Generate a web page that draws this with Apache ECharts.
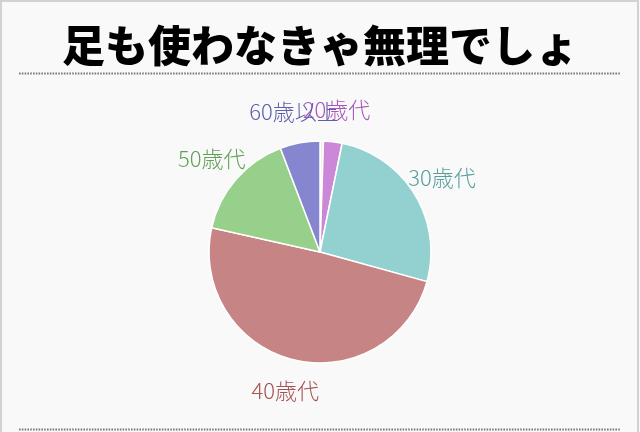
<!DOCTYPE html>
<html>
<head>
<meta charset="utf-8">
<script src="https://cdn.jsdelivr.net/npm/echarts@6/dist/echarts.min.js"></script>
<style>
html,body{margin:0;padding:0;background:#f9f9f9;}
#c{width:640px;height:432px;}
</style>
</head>
<body>
<div id="c"></div>
<script>
const titleText = '足も使わなきゃ無理でしょ';
const categories = ['10歳代', '20歳代', '30歳代', '40歳代', '50歳代', '60歳以上'];
const values = [0.5, 2.7, 26.1, 49.2, 15.7, 5.8];
const sliceColors = ['#f4efd6', '#cc88d8', '#93d1d0', '#c78484', '#97d08b', '#8586cf'];
const labelColors = ['#d8d0a8', '#a857ba', '#579f9f', '#a65353', '#62a058', '#5e5eac'];
const showLabel = [false, true, true, true, true, true];

const chart = echarts.init(document.getElementById('c'), null, {renderer: 'canvas'});
const option = {
  backgroundColor: '#f9f9f9',
  animation: false,
  graphic: [
    {type: 'rect', shape: {x: 1, y: 1, width: 637, height: 440}, style: {fill: 'none', stroke: '#d2d2d2', lineWidth: 2}},
    {type: 'text', x: 320, y: 46, style: {text: titleText, fontSize: 43, fontWeight: 900, fontFamily: '"Noto Sans CJK JP", sans-serif', fill: '#000', align: 'center', verticalAlign: 'middle'}},
    {type: 'line', shape: {x1: 19, y1: 73.5, x2: 621, y2: 73.5}, style: {stroke: '#7a7a7a', lineWidth: 2, lineDash: [1.6, 1.2]}},
    {type: 'line', shape: {x1: 19, y1: 429.5, x2: 621, y2: 429.5}, style: {stroke: '#7a7a7a', lineWidth: 2, lineDash: [1.6, 1.2]}}
  ],
  series: [{
    type: 'pie',
    center: [320, 252],
    radius: 111,
    startAngle: 90,
    clockwise: true,
    avoidLabelOverlap: false,
    itemStyle: {borderColor: '#ffffff', borderWidth: 1.5},
    label: {
      show: true,
      position: 'outside',
      fontSize: 22,
      fontWeight: 300,
      fontFamily: '"Noto Sans CJK JP", sans-serif',
      distanceToLabelLine: 0,
      formatter: '{b}'
    },
    labelLine: {show: false, length: 32, length2: 0},
    labelLayout: function () { return {align: 'center', verticalAlign: 'middle', fontSize: 22}; },
    emphasis: {disabled: true},
    data: categories.map((name, i) => ({
      name: name,
      value: values[i],
      itemStyle: {color: sliceColors[i]},
      label: {show: showLabel[i], color: labelColors[i]}
    }))
  }]
};
chart.setOption(option);
</script>
</body>
</html>
